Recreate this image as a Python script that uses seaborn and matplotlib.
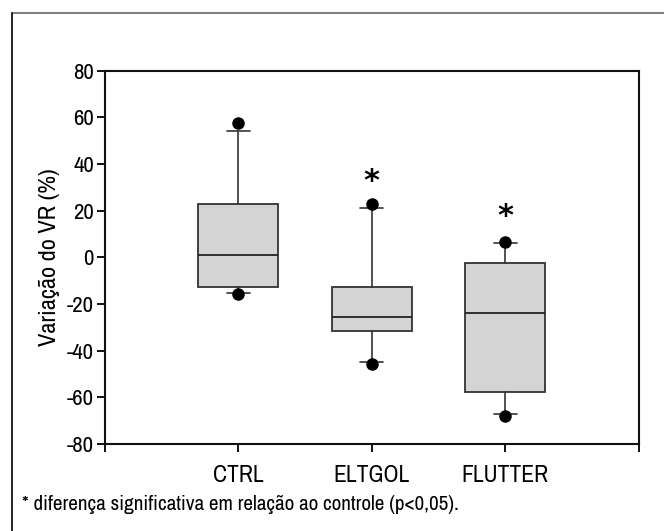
import numpy as np
import seaborn as sns
import matplotlib.pyplot as plt
from matplotlib.lines import Line2D

groups = ['CTRL', 'ELTGOL', 'FLUTTER']
medians = [1.0, -25.4, -24.0]
q1 = [-12.7, -31.6, -57.7]
q3 = [22.8, -12.9, -2.6]
whisker_lo = [-15.4, -45.0, -67.3]
whisker_hi = [54.3, 21.1, 6.0]
fliers = [[57.4, -15.6], [22.8, -45.7], [6.4, -67.9]]
signif = [False, True, True]
star_y = [None, 32.4, 17.4]

sns.set_style('ticks')
plt.rcParams['font.family'] = ['Archivo Narrow', 'DejaVu Sans']
plt.rcParams['axes.unicode_minus'] = False
plt.rcParams['text.color'] = 'black'
plt.rcParams['axes.labelcolor'] = 'black'
plt.rcParams['xtick.color'] = 'black'
plt.rcParams['ytick.color'] = 'black'

fig = plt.figure(figsize=(6.64, 5.31), dpi=100)
ax = fig.add_axes([0.158, 0.164, 0.804, 0.703])

stats = []
for i, g in enumerate(groups):
    stats.append({'label': g, 'med': medians[i], 'q1': q1[i], 'q3': q3[i],
                  'whislo': whisker_lo[i], 'whishi': whisker_hi[i],
                  'fliers': np.array(fliers[i])})

positions = np.arange(1, len(groups) + 1)
ax.bxp(stats, positions=positions, widths=0.6, capwidths=0.17,
       patch_artist=True, showfliers=True,
       boxprops=dict(facecolor='#d4d4d4', edgecolor='#333333', linewidth=1.3),
       medianprops=dict(color='#222222', linewidth=1.3),
       whiskerprops=dict(color='#333333', linewidth=1.2),
       capprops=dict(color='#333333', linewidth=1.2),
       flierprops=dict(marker='o', markerfacecolor='black', markeredgecolor='black',
                       markersize=8, linestyle='none'))

for i, s in enumerate(signif):
    if s:
        ax.text(positions[i], star_y[i], '*', ha='center', va='center',
                fontsize=22, fontweight='bold', family='DejaVu Sans')

ax.set_xlim(0, 4)
ax.set_ylim(-80, 80)
ax.set_yticks(np.arange(-80, 81, 20))
ax.set_xticks([0, 1, 2, 3, 4])
ax.set_xticklabels([''] + groups + [''])
ax.set_ylabel('Variação do VR (%)', fontsize=17.5, labelpad=5)
ax.tick_params(axis='both', length=6, width=1.3, color='black', direction='out')
ax.tick_params(axis='y', labelsize=16.5, pad=2)
ax.tick_params(axis='x', labelsize=17, pad=9)
for sp in ax.spines.values():
    sp.set_visible(True)
    sp.set_color('#111111')
    sp.set_linewidth(1.5)

fig.text(22 / 664, 1 - 505 / 531, '* diferença significativa em relação ao controle (p<0,05).',
         fontsize=15.2, ha='left', va='center')

# partial outer frame
fig.add_artist(Line2D([12 / 664, 1], [1 - 13 / 531, 1 - 13 / 531], color='#808080', linewidth=1.5))
fig.add_artist(Line2D([12 / 664, 12 / 664], [0, 1 - 13 / 531], color='black', linewidth=1.2))

fig.savefig('out.png', dpi=100)
